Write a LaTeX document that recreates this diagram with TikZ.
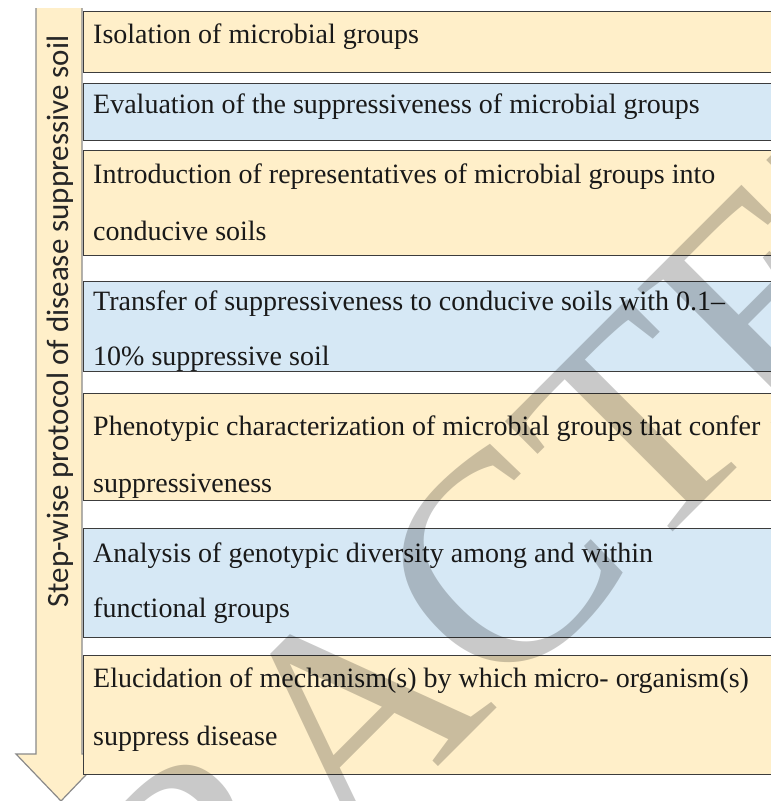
\documentclass[tikz,border=0pt]{standalone}
\usepackage{fontspec}
\setmainfont{Liberation Serif}
\newfontfamily\sidefont{Carlito}
\newfontfamily\wmfont{Liberation Serif}
\definecolor{boxorange}{HTML}{FFEFC9}
\definecolor{boxblue}{HTML}{D6E8F5}
\definecolor{boxline}{HTML}{3C3C3C}
\definecolor{arrowline}{HTML}{8A8A8A}
\begin{document}
\begin{tikzpicture}[x=1pt,y=-1pt,
  stepbox/.style={draw=boxline, line width=1.3pt, rectangle, inner sep=0pt, minimum width=700pt, anchor=north west},
  orangebox/.style={stepbox, fill=boxorange},
  bluebox/.style={stepbox, fill=boxblue},
  steptext/.style={anchor=base west, inner sep=0pt, font=\fontsize{28}{28}\selectfont, text=black!90}]
\useasboundingbox (0,0) rectangle (771,801);
\clip (0,0) rectangle (771,801);
\fill[white] (0,0) rectangle (771,801);
% big down arrow
\fill[boxorange] (36,8) -- (36,754) -- (16,754) -- (61,801) -- (106,754) -- (82,754) -- (82,8) -- cycle;
\draw[arrowline, line width=1.2pt, line join=miter] (36,8) -- (36,754) -- (16,754) -- (61,801) -- (106,754) -- (82,754) -- (82,8);
\node[rotate=90, anchor=base, inner sep=0pt, font=\sidefont\fontsize{31}{31}\selectfont, text=black!85] (side) at (68.5,321.5) {Step-wise protocol of disease suppressive soil};
% boxes
\node[orangebox, minimum height=61pt] (b1) at (83,11) {};
\node[bluebox, minimum height=57pt] (b2) at (83,83) {};
\node[orangebox, minimum height=105pt] (b3) at (83,150) {};
\node[bluebox, minimum height=90pt] (b4) at (83,280.5) {};
\node[orangebox, minimum height=107pt] (b5) at (83,392.5) {};
\node[bluebox, minimum height=109pt] (b6) at (83,528) {};
\node[orangebox, minimum height=119pt] (b7) at (83,655) {};
% texts
\node[steptext] (t1) at (93,43) {Isolation of microbial groups};
\node[steptext] (t2) at (93,113) {Evaluation of the suppressiveness of microbial groups};
\node[steptext] (t3a) at (93,183) {Introduction of representatives of microbial groups into};
\node[steptext] (t3b) at (93,240) {conducive soils};
\node[steptext] (t4a) at (93,310) {Transfer of suppressiveness to conducive soils with 0.1–};
\node[steptext] (t4b) at (93,365) {10\% suppressive soil};
\node[steptext] (t5a) at (93,435) {Phenotypic characterization of microbial groups that confer};
\node[steptext] (t5b) at (93,492) {suppressiveness};
\node[steptext] (t6a) at (93,562) {Analysis of genotypic diversity among and within};
\node[steptext] (t6b) at (93,617) {functional groups};
\node[steptext] (t7a) at (93,687) {Elucidation of mechanism(s) by which micro- organism(s)};
\node[steptext] (t7b) at (93,745) {suppress disease};
% watermark
\node[rotate=45, anchor=base east, inner sep=0pt, font=\wmfont\fontsize{300}{300}\selectfont, text=black, text opacity=0.21] (wm) at (1052.9,152.1) {RETRACTED};
\end{tikzpicture}
\end{document}
